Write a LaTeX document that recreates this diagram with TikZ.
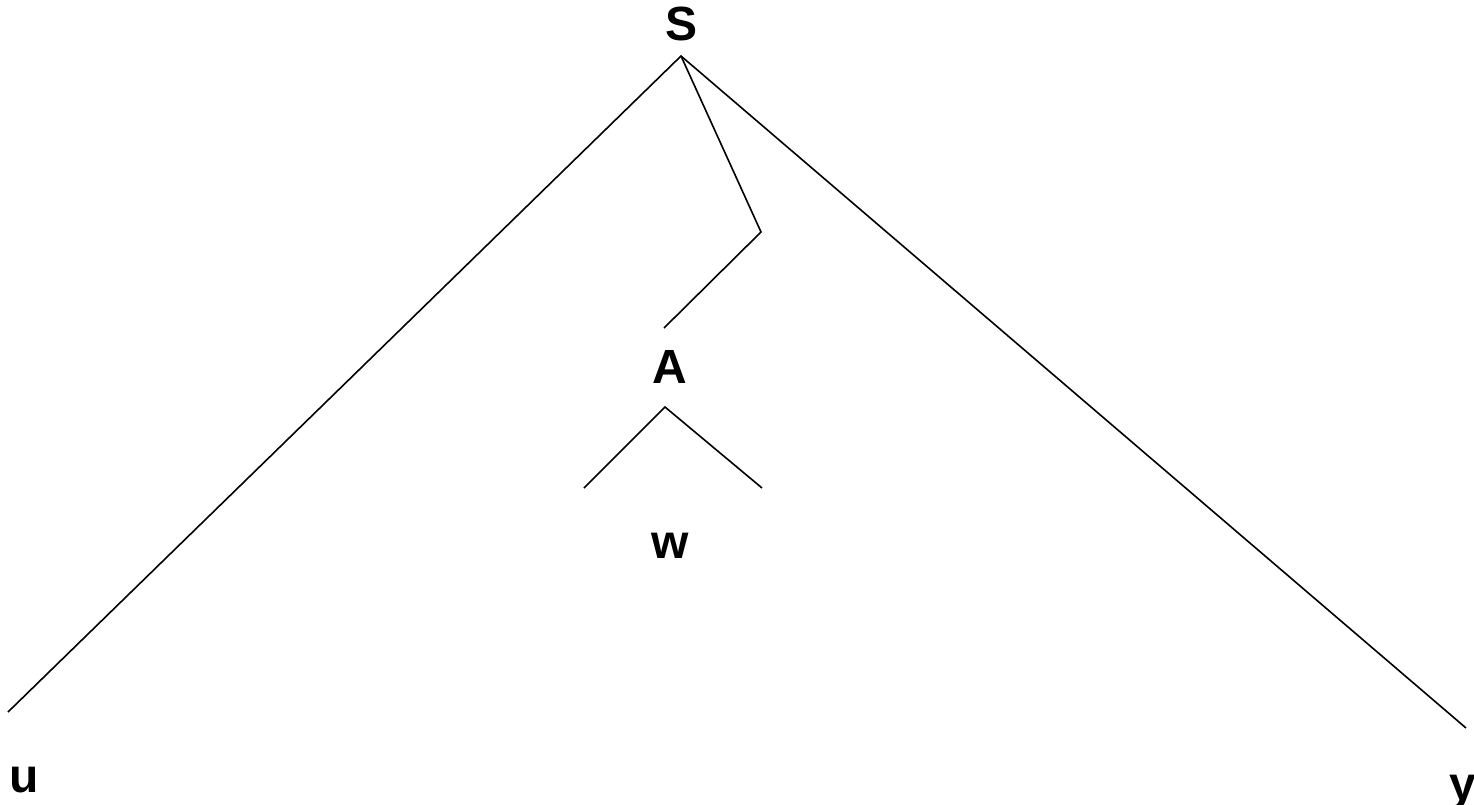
\documentclass[tikz,border=0pt]{standalone}
\usepackage{fontspec}
\setmainfont{Liberation Sans}
\begin{document}
\begin{tikzpicture}[x=1pt,y=-1pt,
  lbl/.style={font=\fontsize{48}{52}\selectfont\bfseries, inner sep=0pt, anchor=base},
  edge/.style={line width=1.6pt, line join=miter}]
\useasboundingbox (0,0) rectangle (1474,804);
\node[lbl] (S) at (681,40) {S};
\node[lbl] (A) at (670,383) {A};
\node[lbl] (w) at (670,558) {w};
\node[lbl] (u) at (24,792) {u};
\node[lbl] (y) at (1463,800) {y};
\coordinate (top) at (681,56);
\coordinate (ul) at (8,712);
\coordinate (yr) at (1466,728);
\coordinate (bend) at (761,232);
\coordinate (aend) at (664,328);
\coordinate (atop) at (665,407);
\coordinate (wl) at (584,488);
\coordinate (wr) at (762,488);
\draw[edge] (ul) -- (top) -- (yr);
\draw[edge] (top) -- (bend) -- (aend);
\draw[edge] (wl) -- (atop) -- (wr);
\end{tikzpicture}
\end{document}
